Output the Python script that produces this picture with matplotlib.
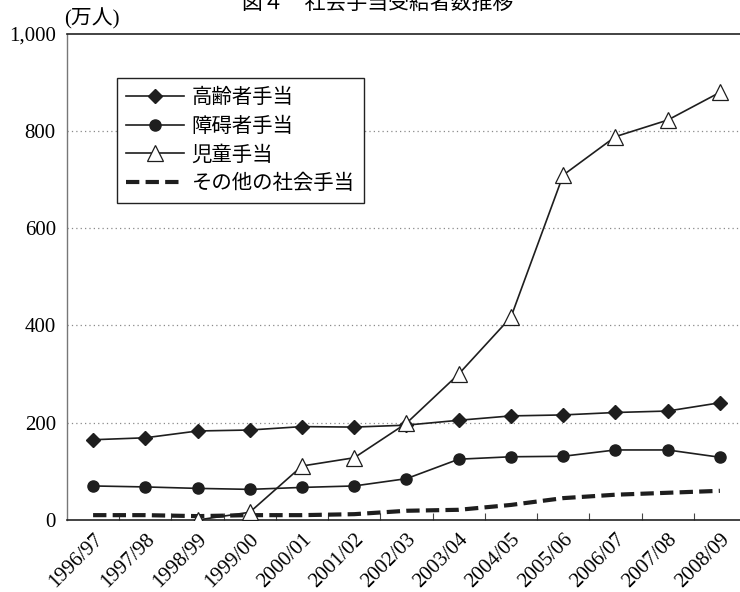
import numpy as np
import matplotlib
matplotlib.use("Agg")
import matplotlib.pyplot as plt

plt.rcParams['font.family'] = ['Liberation Serif', 'Noto Sans CJK JP']

years = ["1996/97", "1997/98", "1998/99", "1999/00", "2000/01", "2001/02", "2002/03",
         "2003/04", "2004/05", "2005/06", "2006/07", "2007/08", "2008/09"]

# 受給者数（万人）
elderly = [165, 169, 183, 185, 192, 191, 195, 205, 214, 216, 221, 224, 241]
disabled = [70, 68, 65, 63, 67, 70, 85, 125, 130, 131, 144, 144, 129]
child = [0, 0, 0, 16, 111, 128, 199, 300, 417, 709, 788, 822, 879]
other = [10, 10, 8, 10, 10, 12, 19, 21, 31, 45, 52, 56, 60]

# 児童手当は1998/99から
child_start = 2

fig = plt.figure(figsize=(7.4, 5.92), dpi=100)
ax = fig.add_axes([0.0905, 0.1216, 0.9176, 0.8218])

x = np.arange(len(years))
lc = '#1e1e1e'

ax.plot(x, elderly, color=lc, lw=1.2, marker='D', ms=7, mfc=lc, mec=lc,
        label='高齢者手当', zorder=4)
ax.plot(x, disabled, color=lc, lw=1.2, marker='o', ms=8, mfc=lc, mec=lc,
        label='障碍者手当', zorder=4)
ax.plot(x[child_start:], child[child_start:], color=lc, lw=1.2, marker='^', ms=11,
        mfc='white', mec=lc, mew=0.9, label='児童手当', zorder=5)
ax.plot(x, other, color=lc, lw=3.0, ls=(0, (3.2, 1.5)),
        label='その他の社会手当', zorder=3)

ax.set_xlim(-0.5, len(years) - 0.5)
ax.set_ylim(0, 1000)
ax.set_yticks([0, 200, 400, 600, 800, 1000])
ax.set_yticklabels(['0', '200', '400', '600', '800', '1,000'], fontsize=15)
ax.set_xticks(x)
ax.set_xticklabels(years, rotation=45, ha='right', rotation_mode='anchor', fontsize=15)
ax.set_xticks(x[:-1] + 0.5, minor=True)
ax.tick_params(axis='x', which='major', length=0, pad=7)
ax.tick_params(axis='x', which='minor', direction='in', length=5, width=0.8, color='#444')
ax.tick_params(axis='y', length=0, pad=8)

for yv in [200, 400, 600, 800]:
    ax.axhline(yv, color='#8a8a8a', lw=0.9, ls=(0, (1, 2.5)), zorder=1)

ax.spines['right'].set_visible(False)
ax.spines['left'].set_color('#777777')
ax.spines['left'].set_linewidth(1.0)
ax.spines['top'].set_color('#222222')
ax.spines['top'].set_linewidth(1.2)
ax.spines['bottom'].set_color('#222222')
ax.spines['bottom'].set_linewidth(1.2)

leg = ax.legend(loc='upper left', bbox_to_anchor=(0.074, 0.909), borderaxespad=0,
                handlelength=2.8, handletextpad=0.4, labelspacing=0.38,
                borderpad=0.45, fancybox=False, framealpha=1, edgecolor='#222222',
                prop={'family': ['Noto Sans CJK JP'], 'size': 14.7})
leg.get_frame().set_linewidth(1.0)

fig.text(92 / 740, 1 - 19 / 592, '(万人)', fontsize=15, ha='center', va='center')
fig.text(378 / 740, 1 - 3 / 592, '図４　社会手当受給者数推移', fontsize=15,
         ha='center', va='center', family=['Noto Sans CJK JP'])

fig.savefig('out.png', dpi=100)
